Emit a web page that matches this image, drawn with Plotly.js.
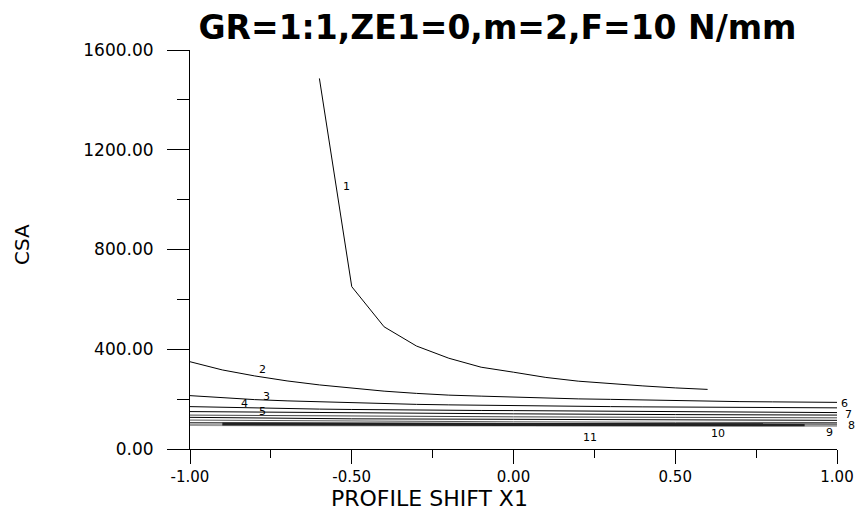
<!DOCTYPE html>
<html>
<head>
<meta charset="utf-8">
<script src="https://cdn.plot.ly/plotly-3.0.1.min.js"></script>
<style>html,body{margin:0;padding:0;background:#fff;}#chart{width:862px;height:514px;}</style>
</head>
<body>
<div id="chart"></div>
<script>
// Curve 1
const x1 = [-0.6, -0.5, -0.4, -0.3, -0.2, -0.1, 0.0, 0.1, 0.2, 0.3, 0.4, 0.5, 0.6];
const y1 = [1486, 651, 490, 413, 364, 328, 308, 287, 272, 261, 253, 245, 239];
// Full-range curves sampled every 0.1
const xFull = [-1.0, -0.9, -0.8, -0.7, -0.6, -0.5, -0.4, -0.3, -0.2, -0.1, 0.0, 0.1, 0.2, 0.3, 0.4, 0.5, 0.6, 0.7, 0.8, 0.9, 1.0];
const y2 = [350, 317, 293, 273, 257, 243, 232, 223, 216, 212, 208, 204, 201, 199, 196, 193, 191, 190, 189, 188, 187];
const y3 = [214, 205, 198, 193, 189, 185, 182, 179, 177, 175, 173, 172, 171, 170, 169, 168, 167, 166.5, 166, 165.5, 165];
const y4 = [170, 167, 164, 162, 160, 158.5, 157, 156, 155, 154.5, 154, 153, 152, 151, 150, 149.5, 149, 148, 147.5, 147, 146];
// Flatter curves sampled every 0.5
const xHalf = [-1.0, -0.5, 0.0, 0.5, 1.0];
const y5 = [150, 144, 141, 138, 136];
const y6 = [136, 131, 129, 127, 125];
const y7 = [127, 121, 119, 117, 115];
const y8 = [116, 111, 109, 107, 106];
const y9 = [105, 103, 102, 101, 100];
const x10 = [-0.9, -0.5, 0.0, 0.5, 0.9];
const y10 = [100, 99, 98.5, 98, 97];
const y11 = [96, 95, 94.5, 94, 93];

// Curve labels (x in data units, may lie just past the right end of the axis)
const labelText = ["1", "2", "3", "4", "5", "6", "7", "8", "9", "10", "11"];
const labelX = [-0.515, -0.777, -0.765, -0.83, -0.777, 1.022, 1.036, 1.046, 0.978, 0.632, 0.236];
const labelY = [1054, 317, 212, 184, 152, 182, 140, 96, 68, 64, 48];

// Tick labels
const xTickVals = [-1.0, -0.5, 0.0, 0.5, 1.0];
const xTickText = ["-1.00", "-0.50", "0.00", "0.50", "1.00"];
const yTickVals = [0, 400, 800, 1200, 1600];
const yTickText = ["0.00", "400.00", "800.00", "1200.00", "1600.00"];

const titleText = "GR=1:1,ZE1=0,m=2,F=10 N/mm";
const xTitle = "PROFILE SHIFT X1";
const yTitle = "CSA";

const X_RANGE = [-1, 1];
const Y_RANGE = [0, 1600];

function line(x, y, color, width) {
  return {x: x, y: y, type: 'scatter', mode: 'lines', line: {color: color, width: width}, hoverinfo: 'skip', showlegend: false, cliponaxis: false};
}

const traces = [
  line(x1, y1, '#000', 1),
  line(xFull, y2, '#000', 1),
  line(xFull, y3, '#000', 1),
  line(xFull, y4, '#000', 1),
  line(xHalf, y5, '#000', 1),
  line(xHalf, y6, '#444', 1),
  line(xHalf, y7, '#000', 1),
  line(xHalf, y8, '#555', 1),
  line(xHalf, y9, '#000', 1),
  line(xHalf, y11, '#9a9a9a', 2),
  line(x10, y10, '#222', 3)
];

const labFont = {family: 'DejaVu Sans, Arial, sans-serif', size: 11, color: '#000'};
const annotations = labelText.map((t, i) => ({
  // convert to paper fraction so labels past the axis end are still drawn
  x: (labelX[i] - X_RANGE[0]) / (X_RANGE[1] - X_RANGE[0]),
  y: (labelY[i] - Y_RANGE[0]) / (Y_RANGE[1] - Y_RANGE[0]),
  xref: 'paper', yref: 'paper', xanchor: 'center', yanchor: 'middle',
  text: t, showarrow: false, font: labFont
}));
annotations.push({
  xref: 'paper', yref: 'paper', x: (429 - 190) / 647, y: -(499 - 449) / 399,
  text: xTitle, showarrow: false, xanchor: 'center', yanchor: 'middle',
  font: {family: 'DejaVu Sans, Arial, sans-serif', size: 22, color: '#000'}
});
annotations.push({
  xref: 'paper', yref: 'paper', x: -(190 - 22) / 647, y: (449 - 245) / 399,
  text: yTitle, showarrow: false, textangle: -90, xanchor: 'center', yanchor: 'middle',
  font: {family: 'DejaVu Sans, Arial, sans-serif', size: 20, color: '#000'}
});

const layout = {
  width: 862, height: 514,
  margin: {l: 190, r: 25, t: 50, b: 65, pad: 0},
  paper_bgcolor: '#fff', plot_bgcolor: '#fff',
  title: {
    text: '<b>' + titleText + '</b>', xref: 'container', yref: 'container',
    x: 497.5 / 862, xanchor: 'center', y: 1 - 27 / 514, yanchor: 'middle',
    font: {family: 'DejaVu Sans, Arial, sans-serif', size: 33, color: '#000'}
  },
  xaxis: {
    range: X_RANGE, showgrid: false, zeroline: false,
    showline: true, linecolor: '#000', linewidth: 1, mirror: false,
    ticks: 'outside', ticklen: 14, tickwidth: 1, tickcolor: '#000',
    tickmode: 'array', tickvals: xTickVals, ticktext: xTickText,
    ticklabelstandoff: 0,
    tickfont: {family: 'DejaVu Sans, Arial, sans-serif', size: 15, color: '#000'},
    minor: {dtick: 0.25, tick0: -1, ticks: 'outside', ticklen: 8, tickwidth: 1, tickcolor: '#000', showgrid: false}
  },
  yaxis: {
    range: Y_RANGE, showgrid: false, zeroline: false,
    showline: true, linecolor: '#000', linewidth: 1, mirror: false,
    ticks: 'outside', ticklen: 22, tickwidth: 1, tickcolor: '#000',
    tickmode: 'array', tickvals: yTickVals, ticktext: yTickText,
    ticklabelstandoff: 10,
    tickfont: {family: 'DejaVu Sans, Arial, sans-serif', size: 17, color: '#000'},
    minor: {dtick: 200, tick0: 0, ticks: 'outside', ticklen: 12, tickwidth: 1, tickcolor: '#000', showgrid: false}
  },
  annotations: annotations
};

Plotly.newPlot('chart', traces, layout, {staticPlot: true, displayModeBar: false});
</script>
</body>
</html>
